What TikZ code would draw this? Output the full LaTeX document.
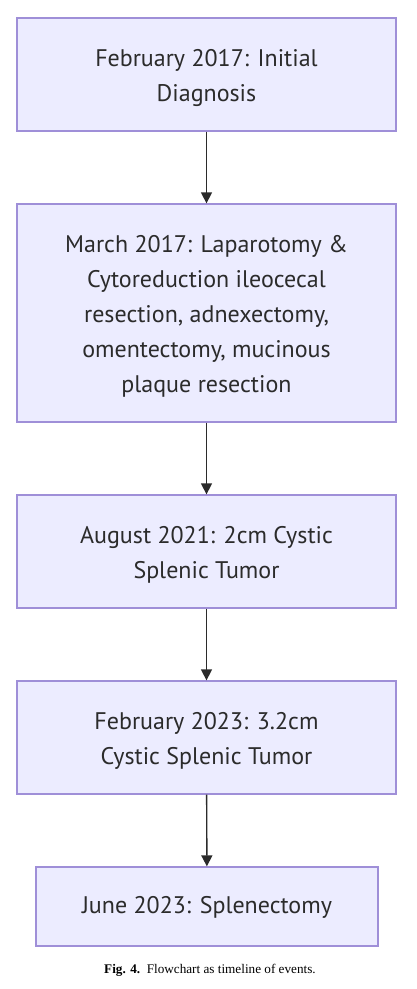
\documentclass[tikz,border=0pt]{standalone}
\usepackage{fontspec}
\setmainfont{PT Sans}
\newfontfamily\capfont{Liberation Serif}
\usetikzlibrary{arrows.meta}
\definecolor{boxfill}{HTML}{ECECFF}
\definecolor{boxline}{HTML}{9F8FD8}
\definecolor{txt}{HTML}{2B2B2B}
\tikzset{
  evbox/.style={draw=boxline, fill=boxfill, line width=1.3pt, inner sep=0pt},
  evtext/.style={align=center, text=txt, font=\fontsize{24}{35}\selectfont, inner sep=0pt},
  flow/.style={draw=txt, line width=1.4pt, -{Triangle[length=11pt,width=11pt]}}
}
\begin{document}
\begin{tikzpicture}[x=1pt,y=-1pt]
\useasboundingbox[fill=white] (0,0) rectangle (416,989);
\node[evbox, minimum width=379pt, minimum height=113pt] (b1) at (206.5,74.5) {};
\node[evbox, minimum width=379pt, minimum height=218pt] (b2) at (206.5,313) {};
\node[evbox, minimum width=379pt, minimum height=113pt] (b3) at (206.5,551.5) {};
\node[evbox, minimum width=379pt, minimum height=113pt] (b4) at (206.5,737.5) {};
\node[evbox, minimum width=342pt, minimum height=79pt] (b5) at (207,906.5) {};
\node[evtext] (t1) at ([yshift=-3pt]b1.center) {February 2017: Initial\\Diagnosis};
\node[evtext] (t2) at ([yshift=-3pt]b2.center)
  {March 2017: Laparotomy \&\\Cytoreduction ileocecal\\resection, adnexectomy,\\omentectomy, mucinous\\plaque resection};
\node[evtext] (t3) at ([yshift=-3pt]b3.center) {August 2021: 2cm Cystic\\Splenic Tumor};
\node[evtext] (t4) at ([yshift=-3pt]b4.center) {February 2023: 3.2cm\\Cystic Splenic Tumor};
\node[evtext] (t5) at ([yshift=-1pt]b5.center) {June 2023: Splenectomy};
\draw[flow] (b1) -- (b2);
\draw[flow] (b2) -- (b3);
\draw[flow] (b3) -- (b4);
\draw[flow] (b4) -- (b5);
\node[font=\capfont\fontsize{13.2}{15}\selectfont] (cap) at (210,970)
  {\textbf{Fig. 4.}\enspace Flowchart as timeline of events.};
\end{tikzpicture}
\end{document}
